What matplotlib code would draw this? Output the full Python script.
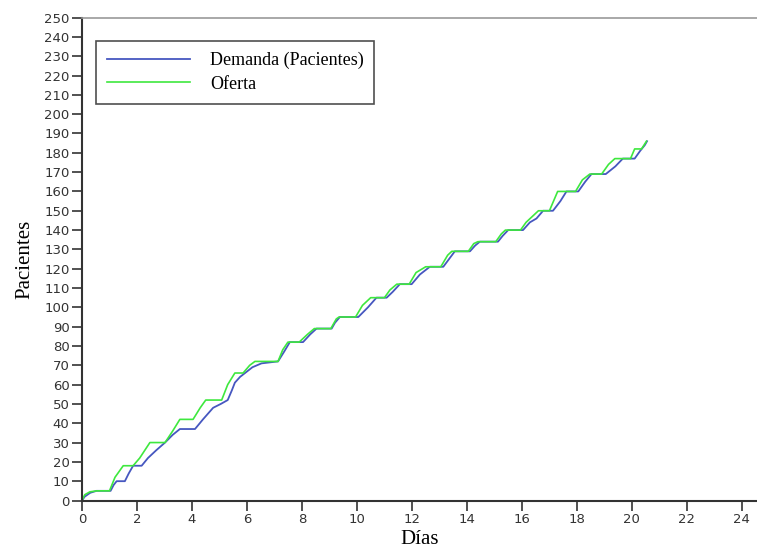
import matplotlib
matplotlib.use("Agg")
import matplotlib.pyplot as plt

# Demanda (pacientes) - cumulative count per day
dem_x = [0, 0.1, 0.3, 0.53, 1.04, 1.15, 1.26, 1.56, 1.7, 1.86, 2.17, 2.4, 2.7, 3.02, 3.3,
         3.56, 4.11, 4.4, 4.77, 5.05, 5.3, 5.45, 5.56, 5.75, 5.93, 6.2, 6.53, 7.13, 7.35,
         7.56, 8.04, 8.3, 8.53, 9.08, 9.2, 9.38, 10.05, 10.4, 10.71, 11.08, 11.3, 11.56,
         11.99, 12.29, 12.65, 13.14, 13.35, 13.56, 14.11, 14.3, 14.47, 15.13, 15.3, 15.5,
         16.04, 16.29, 16.53, 16.77, 17.13, 17.4, 17.62, 18.05, 18.3, 18.53, 19.05, 19.4,
         19.67, 20.1, 20.3, 20.47, 20.55]
dem_y = [0, 2, 4, 5, 5, 8, 10, 10, 14, 18, 18, 22, 26, 30, 34,
         37, 37, 42, 48, 50, 52, 57, 61, 64, 66, 69, 71, 72, 77,
         82, 82, 86, 89, 89, 92, 95, 95, 100, 105, 105, 108, 112,
         112, 117, 121, 121, 125, 129, 129, 132, 134, 134, 137, 140,
         140, 144, 146, 150, 150, 155, 160, 160, 165, 169, 169, 173,
         177, 177, 181, 184, 186]

# Oferta
of_x = [0, 0.1, 0.29, 0.55, 1.0, 1.2, 1.5, 1.86, 2.1, 2.47, 3.02, 3.3, 3.56, 4.04, 4.3,
        4.5, 5.08, 5.3, 5.56, 5.86, 6.1, 6.29, 7.13, 7.3, 7.49, 7.9, 8.2, 8.45, 9.05,
        9.25, 9.35, 9.95, 10.2, 10.5, 11.0, 11.2, 11.45, 11.9, 12.15, 12.5, 13.05, 13.3,
        13.45, 14.05, 14.25, 14.4, 15.05, 15.25, 15.4, 15.95, 16.15, 16.6, 17.0, 17.3,
        17.95, 18.2, 18.47, 18.9, 19.15, 19.38, 19.95, 20.1, 20.35, 20.53]
of_y = [0, 3, 4.5, 5, 5, 12, 18, 18, 22, 30, 30, 36, 42, 42, 48,
        52, 52, 60, 66, 66, 70, 72, 72, 78, 82, 82, 86, 89, 89,
        94, 95, 95, 101, 105, 105, 109, 112, 112, 118, 121, 121, 127,
        129, 129, 133, 134, 134, 138, 140, 140, 144, 150, 150, 160,
        160, 166, 169, 169, 174, 177, 177, 182, 182, 186]

x_ticks = list(range(0, 25, 2))
y_ticks = list(range(0, 251, 10))

fig = plt.figure(figsize=(7.57, 5.5), dpi=100)
ax = fig.add_axes([0.1083, 0.09, 0.8917, 0.878])

ax.plot(dem_x, dem_y, color='#4657c0', lw=1.3, label='Demanda (Pacientes)')
ax.plot(of_x, of_y, color='#3ee83e', lw=1.2, label='Oferta')

ax.set_xlim(0, 24.55)
ax.set_ylim(0, 250)
ax.set_xticks(x_ticks)
ax.set_yticks(y_ticks)
ax.tick_params(direction='out', length=7, width=1.2, color='#333333',
               labelsize=9.5, labelcolor='#333333', pad=2)

for s in ['left', 'bottom']:
    ax.spines[s].set_color('#333333')
    ax.spines[s].set_linewidth(1.5)
ax.spines['top'].set_color('#999999')
ax.spines['top'].set_linewidth(1.2)
ax.spines['right'].set_visible(False)

serif = ['Liberation Serif', 'DejaVu Serif']
ax.set_xlabel('Días', family=serif, fontsize=15, labelpad=3)
ax.set_ylabel('Pacientes', family=serif, fontsize=15, labelpad=7)

leg = ax.legend(loc='upper left', bbox_to_anchor=(0.127, 0.925),
                bbox_transform=fig.transFigure, borderaxespad=0,
                fancybox=False, frameon=True, handlelength=4.6,
                prop={'family': serif, 'size': 13}, labelspacing=0.35,
                borderpad=0.6, handletextpad=1.1)
leg.get_frame().set_edgecolor('#222222')
leg.get_frame().set_linewidth(1.2)

fig.savefig('out.png', dpi=100)
